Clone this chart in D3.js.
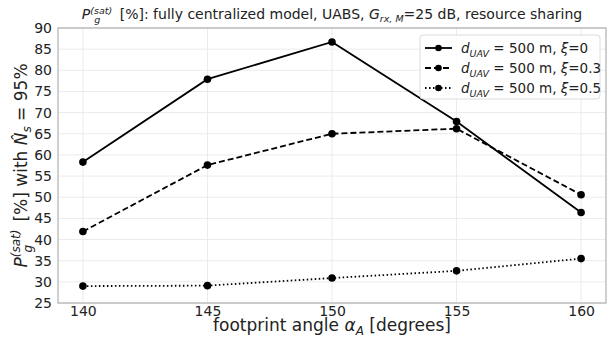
<!DOCTYPE html>
<html><head><meta charset="utf-8">
<script src="https://cdn.jsdelivr.net/npm/d3@7"></script>
<style>body{margin:0;background:#fff;} text{font-family:"DejaVu Sans",sans-serif;fill:#222;}</style>
</head><body><svg id="c" width="610" height="337"></svg>
<script>
const angles = [140, 145, 150, 155, 160];
const xi0 = [58.3, 77.9, 86.7, 67.9, 46.4];
const xi03 = [41.9, 57.6, 65.0, 66.2, 50.6];
const xi05 = [29.0, 29.1, 30.9, 32.6, 35.5];
const yTicks = [25,30,35,40,45,50,55,60,65,70,75,80,85,90];
const xTicks = [140,145,150,155,160];
const seriesNames = ["0", "0.3", "0.5"];

const svg = d3.select("#c");
const m = {l:58, r:4, t:28, b:34};
const W = 610, H = 337;
const x = d3.scaleLinear().domain([139,161]).range([m.l, W-m.r]);
const y = d3.scaleLinear().domain([25,90]).range([H-m.b, m.t]);

// grid
svg.append("g").selectAll("line").data(xTicks).join("line")
  .attr("x1",d=>x(d)).attr("x2",d=>x(d)).attr("y1",m.t).attr("y2",H-m.b)
  .attr("stroke","#ebebeb").attr("stroke-width",1);
svg.append("g").selectAll("line").data(yTicks).join("line")
  .attr("y1",d=>y(d)).attr("y2",d=>y(d)).attr("x1",m.l).attr("x2",W-m.r)
  .attr("stroke","#ebebeb").attr("stroke-width",1);

// axes
const xa = svg.append("g").attr("transform",`translate(0,${H-m.b})`)
  .call(d3.axisBottom(x).tickValues(xTicks).tickSize(0).tickPadding(3).tickFormat(d3.format("d")));
const ya = svg.append("g").attr("transform",`translate(${m.l},0)`)
  .call(d3.axisLeft(y).tickValues(yTicks).tickSize(0).tickPadding(6).tickFormat(d3.format("d")));
[xa,ya].forEach(a=>{a.select(".domain").remove(); a.selectAll("text").style("font-size","14px").style("font-family","DejaVu Sans").attr("fill","#222");});

// frame
svg.append("rect").attr("x",m.l).attr("y",m.t).attr("width",W-m.r-m.l).attr("height",H-m.b-m.t)
  .attr("fill","none").attr("stroke","#b0b0b0").attr("stroke-width",1.2);

const series = [
  {v:xi0, dash:null},
  {v:xi03, dash:"6,3"},
  {v:xi05, dash:"1.5,2.5"}
];
const line = d3.line().x((d,i)=>x(angles[i])).y(d=>y(d));
series.forEach(s=>{
  svg.append("path").datum(s.v).attr("d",line).attr("fill","none").attr("stroke","#000")
    .attr("stroke-width",1.8).attr("stroke-dasharray",s.dash);
  svg.append("g").selectAll("circle").data(s.v).join("circle")
    .attr("cx",(d,i)=>x(angles[i])).attr("cy",d=>y(d)).attr("r",3.8).attr("fill","#000");
});

// legend
const lg = svg.append("g");
lg.append("rect").attr("x",420).attr("y",35).attr("width",180).attr("height",64).attr("rx",3)
  .attr("fill","#fff").attr("fill-opacity",0.85).attr("stroke","#dcdcdc");
series.forEach((s,i)=>{
  const yy = 48 + i*20;
  lg.append("line").attr("x1",425).attr("x2",452).attr("y1",yy).attr("y2",yy).attr("stroke","#000")
    .attr("stroke-width",1.8).attr("stroke-dasharray",s.dash);
  lg.append("circle").attr("cx",438.5).attr("cy",yy).attr("r",3.3).attr("fill","#000");
  const t = lg.append("text").attr("x",461).attr("y",yy+5).style("font-size","13.5px");
  t.append("tspan").style("font-style","italic").text("d");
  t.append("tspan").attr("dy",4).style("font-size","9.5px").style("font-style","italic").text("UAV");
  t.append("tspan").attr("dy",-4).text(" = 500 m, ");
  t.append("tspan").style("font-style","italic").text("ξ");
  t.append("tspan").text("=" + seriesNames[i]);
});

// title
const tt = svg.append("text").attr("x",(m.l+W-m.r)/2).attr("y",19).attr("text-anchor","middle").style("font-size","14px");
tt.append("tspan").style("font-style","italic").text("P");
tt.append("tspan").attr("dy",-5).style("font-size","9.5px").style("font-style","italic").text("(sat)");
tt.append("tspan").attr("dx",-18).attr("dy",9).style("font-size","9.5px").style("font-style","italic").text("g");
tt.append("tspan").attr("dx",15).attr("dy",-4).text(" [%]: fully centralized model, UABS, ");
tt.append("tspan").style("font-style","italic").text("G");
tt.append("tspan").attr("dy",3).style("font-size","9.5px").style("font-style","italic").text("rx, M");
tt.append("tspan").attr("dy",-3).text("=25 dB, resource sharing");

// x label
const xl = svg.append("text").attr("x",(m.l+W-m.r)/2).attr("y",331).attr("text-anchor","middle").style("font-size","17px");
xl.append("tspan").text("footprint angle ");
xl.append("tspan").style("font-style","italic").text("α");
xl.append("tspan").attr("dy",4).style("font-size","12px").style("font-style","italic").text("A");
xl.append("tspan").attr("dy",-4).text(" [degrees]");

// y label
const yl = svg.append("text").attr("transform",`translate(27,${(m.t+H-m.b)/2}) rotate(-90)`).attr("text-anchor","middle").style("font-size","17px");
yl.append("tspan").style("font-style","italic").text("P");
yl.append("tspan").attr("dy",-7).style("font-size","12px").style("font-style","italic").text("(sat)");
yl.append("tspan").attr("dx",-23).attr("dy",12).style("font-size","12px").style("font-style","italic").text("g");
yl.append("tspan").attr("dx",18).attr("dy",-5).text(" [%] with ");
yl.append("tspan").style("font-style","italic").text("N\u0302");
yl.append("tspan").attr("dy",4).style("font-size","12px").style("font-style","italic").text("s");
yl.append("tspan").attr("dy",-4).text(" = 95%");
</script></body></html>
